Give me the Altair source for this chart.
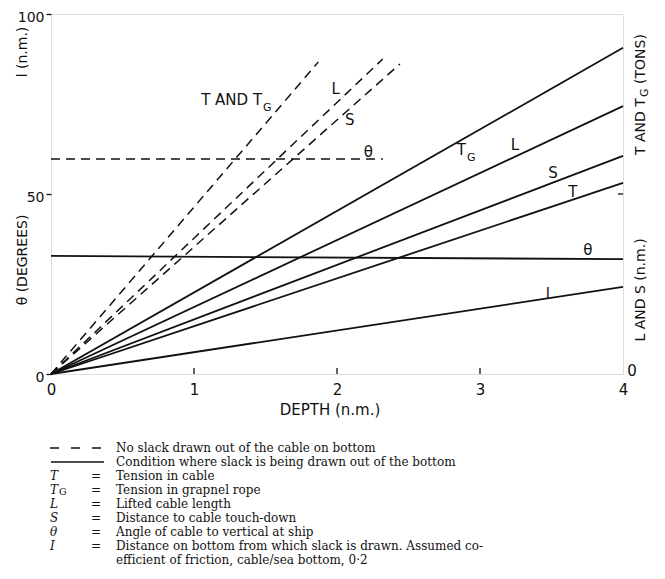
import altair as alt
import pandas as pd

# ---------------- data ----------------
# solid lines: slack being drawn out of the bottom
solid_depth = [0.0, 4.0]
TG_solid = [0.0, 90.6]
L_solid = [0.0, 74.4]
S_solid = [0.0, 60.6]
T_solid = [0.0, 53.1]
theta_solid = [32.8, 31.9]
l_solid = [0.0, 24.2]

# dashed lines: no slack drawn out of the cable on bottom
TTG_dash_depth = [0.0, 1.87]
TTG_dash = [0.0, 86.7]
L_dash_depth = [0.0, 2.32]
L_dash = [0.0, 87.5]
S_dash_depth = [0.0, 2.44]
S_dash = [0.0, 86.1]
theta_dash_depth = [0.0, 2.32]
theta_dash = [59.7, 59.7]

x_ticks = [0, 1, 2, 3, 4]
y_ticks = [0, 50, 100]
inner_x_ticks = [1, 2, 3]

legend_rows = [
    ("", "No slack drawn out of the cable on bottom"),
    ("", "Condition where slack is being drawn out of the bottom"),
    ("T", "Tension in cable"),
    ("T", "Tension in grapnel rope"),
    ("L", "Lifted cable length"),
    ("S", "Distance to cable touch-down"),
    ("θ", "Angle of cable to vertical at ship"),
    ("I", "Distance on bottom from which slack is drawn.   Assumed co-"),
    ("", "efficient of friction, cable/sea bottom, 0·2"),
]

# ---------------- styling / layout ----------------
SANS = "DejaVu Sans"
SERIF = "DejaVu Serif"
INK = "#111111"
W, H = 572, 360
TICK_LEN = 1.7  # in value units (inward ticks)
KEY_SIZE = 12

rows = []
for name, ys in [("TG", TG_solid), ("L", L_solid), ("S", S_solid), ("T", T_solid),
                 ("theta", theta_solid), ("l", l_solid)]:
    for d, v in zip(solid_depth, ys):
        rows.append({"series": name, "depth": d, "value": v})
df_solid = pd.DataFrame(rows)

rows = []
for name, xs, ys in [("TTG", TTG_dash_depth, TTG_dash), ("L", L_dash_depth, L_dash),
                     ("S", S_dash_depth, S_dash), ("theta", theta_dash_depth, theta_dash)]:
    for d, v in zip(xs, ys):
        rows.append({"series": name, "depth": d, "value": v})
df_dash = pd.DataFrame(rows)

xscale = alt.Scale(domain=[0, 4], nice=False, zero=False)
yscale = alt.Scale(domain=[0, 100], nice=False, zero=False)

xaxis = alt.Axis(values=x_ticks, ticks=False, domain=False, grid=False, title=None,
                 labelFont=SANS, labelFontSize=15, labelColor=INK, labelPadding=8,
                 labelFlush=False, format="d")
yaxis = alt.Axis(values=y_ticks, tickSize=5, tickColor=INK, tickWidth=1.3, domain=False,
                 grid=False, title=None, labelFont=SANS, labelFontSize=14,
                 labelColor=INK, labelPadding=2, labelOffset=3, format="d")

solid = alt.Chart(df_solid).mark_line(color=INK, strokeWidth=1.8).encode(
    x=alt.X("depth:Q", scale=xscale, axis=xaxis),
    y=alt.Y("value:Q", scale=yscale, axis=yaxis),
    detail="series:N",
)
dashed = alt.Chart(df_dash).mark_line(color=INK, strokeWidth=1.5, strokeDash=[9, 6]).encode(
    x="depth:Q", y="value:Q", detail="series:N"
)

# inward ticks on the bottom axis
df_xt = pd.DataFrame({"depth": inner_x_ticks})
df_xt["y0"] = 0.0
df_xt["y1"] = TICK_LEN
xt = alt.Chart(df_xt).mark_rule(color=INK, strokeWidth=1.3).encode(
    x="depth:Q", y="y0:Q", y2="y1:Q")

# inward tick at 50 on the right axis
df_rt = pd.DataFrame({"x0": [4.0], "x1": [3.965], "v": [50.0]})
rt = alt.Chart(df_rt).mark_rule(color=INK, strokeWidth=1.3).encode(
    x="x0:Q", x2="x1:Q", y="v:Q")

layers = [solid, dashed, xt, rt]


def dlabel(text, x, y, size=15, align="center", dx=0, dy=0, font=SANS):
    d = pd.DataFrame({"t": [text], "x": [x], "y": [y]})
    return alt.Chart(d).mark_text(font=font, fontSize=size, align=align, baseline="middle",
                                  color=INK, dx=dx, dy=dy).encode(
        x="x:Q", y="y:Q", text="t:N")


def plabel(text, px, py, size=15, align="center", angle=0, font=SANS, style="normal",
           baseline="middle"):
    d = pd.DataFrame({"t": [text]})
    return alt.Chart(d).mark_text(font=font, fontSize=size, align=align, baseline=baseline,
                                  angle=angle, color=INK, fontStyle=style).encode(
        x=alt.value(px), y=alt.value(py), text="t:N")


# line labels (data coordinates)
layers += [
    dlabel("T AND T", 1.476, 76.1, align="right"),
    dlabel("G", 1.483, 74.6, size=11, align="left", dy=3),
    dlabel("L", 1.99, 79.2),
    dlabel("S", 2.09, 70.6),
    dlabel("θ", 2.22, 61.7),
    dlabel("T", 2.902, 62.2, align="right"),
    dlabel("G", 2.909, 60.8, size=11, align="left", dy=3),
    dlabel("L", 3.245, 63.6),
    dlabel("S", 3.51, 55.8),
    dlabel("T", 3.65, 50.6),
    dlabel("θ", 3.755, 34.4),
    dlabel("l", 3.475, 22.2),
    dlabel("0", 4.0, 0.0, dx=9, dy=-3),
]

# axis titles (pixel positions around the plot)
layers += [
    plabel("l (n.m.)", -28, 38, size=14, angle=270),
    plabel("θ (DEGREES)", -28, 246, size=14, angle=270),
    plabel("T AND T", 590, 141, size=14, angle=270, align="left"),
    plabel("G", 594, 83, size=11, angle=270, align="left"),
    plabel("(TONS)", 590, 70, size=14, angle=270, align="left"),
    plabel("L AND S (n.m.)", 590, 276, size=14, angle=270),
    plabel("DEPTH (n.m.)", 279, 396, size=15),
]

# key below the chart
row_y = [434, 448, 462, 476, 490, 504, 518, 532, 546]
d_key = pd.DataFrame({"a": [0]})
layers.append(alt.Chart(d_key).mark_rule(color=INK, strokeWidth=1.3, strokeDash=[9, 12]).encode(
    x=alt.value(-1), x2=alt.value(52), y=alt.value(row_y[0])))
layers.append(alt.Chart(d_key).mark_rule(color=INK, strokeWidth=1.3).encode(
    x=alt.value(0), x2=alt.value(53), y=alt.value(row_y[1])))
for i, (sym, txt) in enumerate(legend_rows):
    layers.append(plabel(txt, 65, row_y[i], size=KEY_SIZE, align="left", font=SERIF))
    if sym:
        layers.append(plabel(sym, -1, row_y[i], size=KEY_SIZE, align="left", font=SERIF,
                             style="italic"))
        layers.append(plabel("=", 45, row_y[i], size=KEY_SIZE, align="center", font=SERIF))
# subscript G of T_G in the key
layers.append(plabel("G", 8, row_y[3] + 2, size=9.5, align="left", font=SERIF))

chart = alt.layer(*layers).properties(
    width=W, height=H,
    padding={"left": 43, "top": 6, "right": 34, "bottom": 200},
    autosize=alt.AutoSizeParams(type="none"),
).configure_view(stroke=INK, strokeWidth=1.5).configure(background="white")

chart.save("out.html", embed_options={"renderer": "svg", "actions": False})
